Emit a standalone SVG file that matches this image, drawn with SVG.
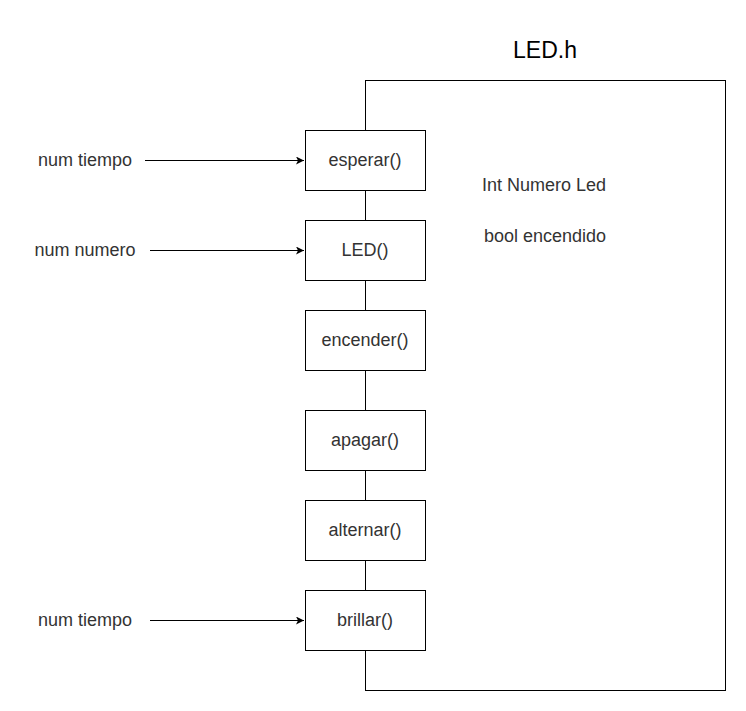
<svg xmlns="http://www.w3.org/2000/svg" width="746" height="711" viewBox="0 0 746 711">
<style>
.box{fill:#fff;stroke:#000;stroke-width:1}
.t{font-family:"Liberation Sans",Arial,sans-serif;font-size:18px;fill:#333;text-anchor:middle;dominant-baseline:central}
.lbl{font-family:"Liberation Sans",Arial,sans-serif;font-size:18px;fill:#333;dominant-baseline:central}
.c{fill:none;stroke:#000;stroke-width:1}
</style>
<defs>
<marker id="arr" viewBox="0 0 10 10" refX="10" refY="5" markerWidth="8" markerHeight="8" markerUnits="userSpaceOnUse" orient="auto">
<path d="M0,0 L10,5 L0,10 L2.5,5 Z" fill="#000"/>
</marker>
</defs>
<rect width="746" height="711" fill="#fff"/>
<g id="container">
<rect x="365.5" y="80.5" width="360" height="610" fill="none" stroke="#000"/>
<text x="545" y="50" style="font-family:'Liberation Sans',Arial,sans-serif;font-size:23px;fill:#000;text-anchor:middle;dominant-baseline:central">LED.h</text>
<text class="lbl" x="482" y="185">Int Numero Led</text>
<text class="lbl" x="484" y="236">bool encendido</text>
</g>
<g id="connectors">
<line class="c" x1="145" y1="160.5" x2="304" y2="160.5" marker-end="url(#arr)"/>
<line class="c" x1="150" y1="250.5" x2="304" y2="250.5" marker-end="url(#arr)"/>
<line class="c" x1="150" y1="620.5" x2="304" y2="620.5" marker-end="url(#arr)"/>
</g>
<g id="inputs">
<text class="t" x="85" y="160">num tiempo</text>
<text class="t" x="85" y="250">num numero</text>
<text class="t" x="85" y="620">num tiempo</text>
</g>
<g id="esperar"><rect class="box" x="305.5" y="130.5" width="120" height="60"/><text class="t" x="365" y="160">esperar()</text></g>
<g id="led"><rect class="box" x="305.5" y="220.5" width="120" height="60"/><text class="t" x="365" y="250">LED()</text></g>
<g id="encender"><rect class="box" x="305.5" y="310.5" width="120" height="60"/><text class="t" x="365" y="340">encender()</text></g>
<g id="apagar"><rect class="box" x="305.5" y="410.5" width="120" height="60"/><text class="t" x="365" y="440">apagar()</text></g>
<g id="alternar"><rect class="box" x="305.5" y="500.5" width="120" height="60"/><text class="t" x="365" y="530">alternar()</text></g>
<g id="brillar"><rect class="box" x="305.5" y="590.5" width="120" height="60"/><text class="t" x="365" y="620">brillar()</text></g>
</svg>
